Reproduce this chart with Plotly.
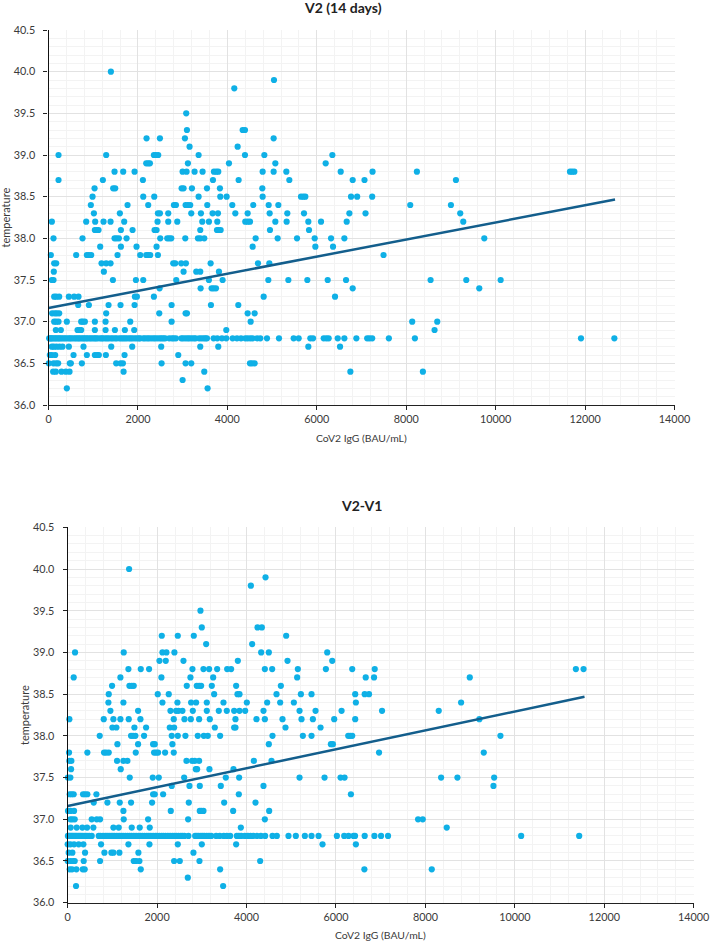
import plotly.graph_objects as go

TEMPS_A = [40.0,39.9,39.8,39.5,39.3,39.2,39.1,39.0,38.9,38.8,38.7,38.6,38.5,38.4,38.3,38.2,38.1,38.0,37.9,37.8,37.7,37.6,37.5,37.4,37.3,37.2,37.1,37.0,36.9,36.8,36.7,36.6,36.5,36.4,36.3,36.2]
IGG_A = [
 [1395],
 [5043],
 [4155],
 [3080],
 [3096,4342,4394],
 [2193,2492,3051,5035],
 [3155,4230],
 [224,1290,2357,2402,2454,3357,4394,4827,6348],
 [2186,2230,2268,3118,4036,5073,6199],
 [1477,1671,1925,2999,3088,3267,3446,3700,3752,3797,4789,5035,5319,6535,7247,8239,11663,11710,11760],
 [224,1216,2111,3678,4252,5386,6803,7067,9112],
 [1030,1447,1492,2977,3021,3208,3544,3834,4782],
 [985,2119,2365,3357,3842,3984,4789,5647,5699,5744,6766,6903,7239],
 [947,1768,2230,2805,2850,3066,3118,3170,3551,4110,4580,4924,5140,8090,9000],
 [1015,1596,2447,2492,2678,3193,3409,3670,3790,4178,4454,4946,5341,5714,6729,7090,9208],
 [75,843,1044,1231,1388,1693,2439,2678,2880,3439,3588,3775,4401,4454,4506,5073,5326,5811,6095,6669,9276],
 [1037,1082,1119,1619,1880,2372,2417,3394,3768,3805,3850,4953,5826],
 [112,761,1477,1522,1574,1746,2499,2656,2701,2746,3059,3342,3394,3484,4633,5125,5558,5953,6319,6617,9746],
 [1156,1619,1969,2417,4566,5968,6363],
 [52,619,858,903,955,1544,2051,2186,2230,2275,2447,7493],
 [127,172,1186,1290,1388,2790,2835,2969,3073,3626,4685,4939],
 [119,1238,3021,3305,3394,3812],
 [75,112,1440,1955,2119,2857,3588,3894,4916,5364,5789,6244,6654,8545,9343,10112],
 [2484,3402,3648,3693,3745,6803,9634],
 [127,172,239,455,574,671,1932,1977,2357,4812,6408],
 [664,903,1343,1611,1925,2753,3633,4245],
 [82,142,186,239,1290,2477,3066,3096,4454,4610],
 [127,172,224,410,731,768,813,1037,1276,1828,2753,4521,8134,8694],
 [164,276,649,694,731,1037,1276,1485,1708,1917,3976,8634],
 [15,40,60,85,120,150,180,215,240,275,310,350,385,430,470,500,540,585,620,660,690,730,770,800,840,870,915,950,990,1030,1060,1095,
  1150,1190,1220,1270,1310,1350,1400,1440,1490,1530,1590,1630,1670,1710,1750,1800,1840,1880,1930,1975,2020,2050,2120,2160,2210,2250,2300,2350,2390,2440,2490,2530,2570,2610,2700,2760,2800,2850,
  2970,3010,3060,3110,3150,3200,3250,3290,3370,3420,3470,3510,3544,3693,3775,3879,3976,4118,4215,4305,4401,4454,4513,4566,4663,4737,4886,5155,5483,5595,5856,5916,6155,6214,6266,6468,6617,6885,7127,7179,7239,7612,8194,11909,12655],
 [75,119,179,246,313,455,783,1403,1872,2521,3394,3797,5811,6520],
 [30,75,149,560,858,1037,1089,1126,1283,1701,2902],
 [7,112,172,216,477,500,746,1514,1611,1664,2529,3066,3193,4506,4551,4610],
 [104,164,291,388,470,1679,3484,6751,8373],
 [2999],
 [410,3558],
]
TREND_X_A = [0, 12670]
TREND_Y_A = [37.165, 38.465]

TEMPS_B = [40.0,39.9,39.8,39.5,39.3,39.2,39.1,39.0,38.9,38.8,38.7,38.6,38.5,38.4,38.3,38.2,38.1,38.0,37.9,37.8,37.7,37.6,37.5,37.4,37.3,37.2,37.1,37.0,36.9,36.8,36.7,36.6,36.5,36.4,36.3,36.2]
IGG_B = [
 [1373],
 [4424],
 [4096],
 [2969],
 [2999,4245,4342],
 [2104,2462,2820,4886],
 [3096,4125],
 [164,1253,2119,2208,2387,4327,4498,5804],
 [2052,2193,2589,3805,4916,5916],
 [1358,1634,1820,2790,3036,3163,3342,3566,3655,4409,4573,5147,5774,6363,6866,11365,11537],
 [134,1179,2096,2745,3253,5132,6665,6851,8992],
 [992,1380,1432,1477,2663,2887,2939,2984,3223,3767,4767],
 [918,2014,2260,3275,3797,3842,4670,5215,5453,6430,6642,6739],
 [910,1246,2119,2454,2760,2872,3111,3484,4006,4461,4752,5058,6445,8798],
 [955,1574,2298,2425,2477,2566,2798,3111,3379,3558,3723,3842,3969,4379,5185,5543,6125,7030,8298],
 [37,806,1022,1179,1365,1626,2372,2611,2753,2939,3178,3752,4222,4409,4804,5229,5483,5960,6430,9207],
 [1000,1089,1492,1753,2283,2380,3290,3723,3752,4871,5655],
 [716,1417,1462,1514,1708,2327,2462,2633,2909,3044,3133,3409,4580,5259,5453,6274,6319,6363,9678],
 [1112,1574,1910,1947,2342,4498,5886,5931],
 [30,440,813,858,918,1522,1932,1977,2022,2178,2372,6963,9305],
 [37,82,1104,1246,1335,2656,2783,2842,2939,4163,4558],
 [75,1186,2865,2894,3170,3708],
 [5,60,1388,1902,2037,2604,3536,3834,5185,5744,6102,6192,8351,8716,9537],
 [2327,2723,2954,3424,4379,9522],
 [45,90,134,343,388,440,642,1910,1947,2134,3827,6334],
 [582,888,1164,1417,1887,2708,3499,4200],
 [7,60,142,1246,2305,2954,2992,3036,3700,4506],
 [60,104,157,537,649,724,1253,1798,2693,4409,7836,7940],
 [67,201,328,433,574,1022,1141,1432,1611,1835,3872,8477],
 [5,30,55,85,110,140,170,200,235,270,300,340,385,430,480,537,
  694,735,790,840,880,925,970,1010,1050,1100,1150,1195,1240,1290,1340,1385,1430,1480,1530,1580,1625,1670,1720,1770,1815,1860,1910,1960,2000,2050,2100,2140,2190,2240,2290,2340,2385,2430,2480,2530,2570,2610,2700,
  2850,2890,2930,2980,3020,3060,3110,3160,3210,3320,3400,3490,3560,3633,3782,3830,3880,3960,4030,4090,4150,4230,4320,4416,4580,4677,4938,5102,5304,5453,5610,6020,6184,6281,6393,6426,6642,6859,7008,7164,10141,11439],
 [0,60,142,246,351,746,1358,1828,2462,2999,3767,5699,6445],
 [22,104,388,821,977,1022,1156,1581,2812],
 [0,67,127,157,358,724,1477,1529,1604,2380,2507,2947,4304],
 [45,97,194,336,380,1634,3409,6635,8142],
 [2686],
 [186,3476],
]
TREND_X_B = [0, 11558]
TREND_Y_B = [37.16, 38.468]

TITLE_A = "V2 (14 days)"
TITLE_B = "V2-V1"
XLABEL = "CoV2 IgG (BAU/mL)"
YLABEL = "temperature"

W, H = 710, 942
DOT = "#0FB0E6"
LINE = "#135E8C"
FONT = "Lato"
TXT = "#3a3a3a"

fig = go.Figure()

def add(temps, igg, tx, ty, xa, ya):
    xs, ys = [], []
    for t, row in zip(temps, igg):
        for v in row:
            xs.append(v)
            ys.append(t)
    fig.add_trace(go.Scatter(x=xs, y=ys, mode="markers", xaxis=xa, yaxis=ya,
                             marker=dict(color=DOT, size=6.2, line=dict(width=0)), showlegend=False, cliponaxis=False))
    fig.add_trace(go.Scatter(x=tx, y=ty, mode="lines", xaxis=xa, yaxis=ya,
                             line=dict(color=LINE, width=2.5), showlegend=False))

add(TEMPS_A, IGG_A, TREND_X_A, TREND_Y_A, "x", "y")
add(TEMPS_B, IGG_B, TREND_X_B, TREND_Y_B, "x2", "y2")

def xaxis(l, r, anchor):
    return dict(domain=[l / W, r / W], anchor=anchor, range=[0, 14000], dtick=2000, tick0=0, automargin=False,
                tickformat="d", showgrid=True, gridcolor="#E2E2E2", gridwidth=1,
                minor=dict(dtick=400, tick0=0, showgrid=True, gridcolor="#F3F3F3", gridwidth=1, ticks=""),
                showline=True, linecolor="#222222", linewidth=1, ticks="outside", ticklen=4, tickcolor="#222222",
                tickfont=dict(family=FONT, size=10.8, color=TXT), zeroline=False)

def yaxis(b, t, anchor):
    return dict(domain=[1 - b / H, 1 - t / H], anchor=anchor, range=[36, 40.5], dtick=0.5, tick0=36, automargin=False,
                tickformat=".1f", showgrid=True, gridcolor="#E2E2E2", gridwidth=1, ticklabelstandoff=6,
                minor=dict(dtick=0.1, tick0=36, showgrid=True, gridcolor="#F3F3F3", gridwidth=1, ticks=""),
                showline=True, linecolor="#111111", linewidth=1.3, ticks="outside", ticklen=4, tickcolor="#222222",
                tickfont=dict(family=FONT, size=10.8, color=TXT), zeroline=False)

def label(text, x, y, size, color=TXT, angle=0):
    return dict(text=text, x=x / W, y=1 - y / H, xref="paper", yref="paper", showarrow=False, textangle=angle,
                xanchor="center", yanchor="middle", font=dict(family=FONT, size=size, color=color))

fig.update_layout(
    width=W, height=H, margin=dict(l=0, r=0, t=0, b=0), paper_bgcolor="white", plot_bgcolor="white",
    xaxis=xaxis(48.5, 674.5, "y"),
    yaxis=yaxis(405, 30, "x"),
    xaxis2=xaxis(67.7, 693.7, "y2"),
    yaxis2=yaxis(902.7, 527.3, "x2"),
    annotations=[
        label("<b>%s</b>" % TITLE_A, 342.5, 8, 14, "#222222"),
        label("<b>%s</b>" % TITLE_B, 361.5, 505, 14, "#222222"),
        label(XLABEL, 361.5, 438, 10.4),
        label(XLABEL, 380.5, 935, 10.4),
        label(YLABEL, 5, 217.5, 11, angle=-90),
        label(YLABEL, 24, 715, 11, angle=-90),
    ],
)

fig.write_html("out.html", post_script="document.body.style.margin='0';", config={"displayModeBar": False})
